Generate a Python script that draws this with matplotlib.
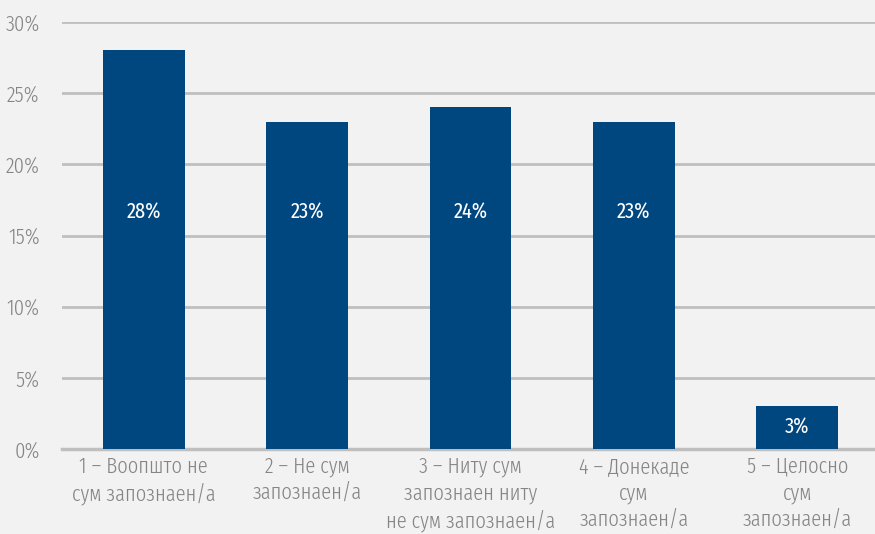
import matplotlib
matplotlib.use("Agg")
import matplotlib.pyplot as plt

categories = ["1 – Воопшто не\nсум запознаен/а",
              "2 – Не сум\nзапознаен/а",
              "3 – Ниту сум\nзапознаен ниту\nне сум запознаен/а",
              "4 – Донекаде\nсум\nзапознаен/а",
              "5 – Целосно\nсум\nзапознаен/а"]
values = [28, 23, 24, 23, 3]
yticks = [0, 5, 10, 15, 20, 25, 30]
ytick_labels = ["0%", "5%", "10%", "15%", "20%", "25%", "30%"]

plt.rcParams['font.family'] = ['Fira Sans Extra Condensed', 'Fira Sans Condensed', 'DejaVu Sans']
plt.rcParams['font.weight'] = 'normal'

bg = "#f2f2f2"
fs = 16
fig = plt.figure(figsize=(8.75, 5.34), dpi=100, facecolor=bg)
ax = fig.add_axes([62/875, 1-449/534, 817/875, (449-22)/534], facecolor=bg)

x = list(range(len(values)))
ax.bar(x, values, width=0.5, color="#00467f", zorder=3)
ax.set_xlim(-0.5, 4.5)
ax.set_ylim(0, 30)
ax.set_yticks(yticks)
ax.set_yticklabels(ytick_labels)
ax.set_xticks(x)
ax.set_xticklabels(categories, linespacing=1.3)
ax.grid(axis='y', color="#bfbfbf", linewidth=2, zorder=0)
ax.set_axisbelow(True)
for s in ["top", "right", "left"]:
    ax.spines[s].set_visible(False)
ax.spines["bottom"].set_color("#bfbfbf")
ax.spines["bottom"].set_linewidth(2.5)
ax.tick_params(axis='y', length=0, pad=16, labelsize=fs, labelcolor="#858585")
ax.tick_params(axis='x', length=0, pad=5, labelsize=fs, labelcolor="#858585")
for lab in ax.get_xticklabels() + ax.get_yticklabels():
    lab.set_fontweight(350)

for xi, v in zip(x, values):
    ly = v / 2 if v < 5 else 16.6
    ax.text(xi, ly, f"{v}%", ha='center', va='center', color="#ffffff", fontsize=fs,
            fontweight='normal', zorder=4)

fig.savefig("out.png", dpi=100, facecolor=bg)
